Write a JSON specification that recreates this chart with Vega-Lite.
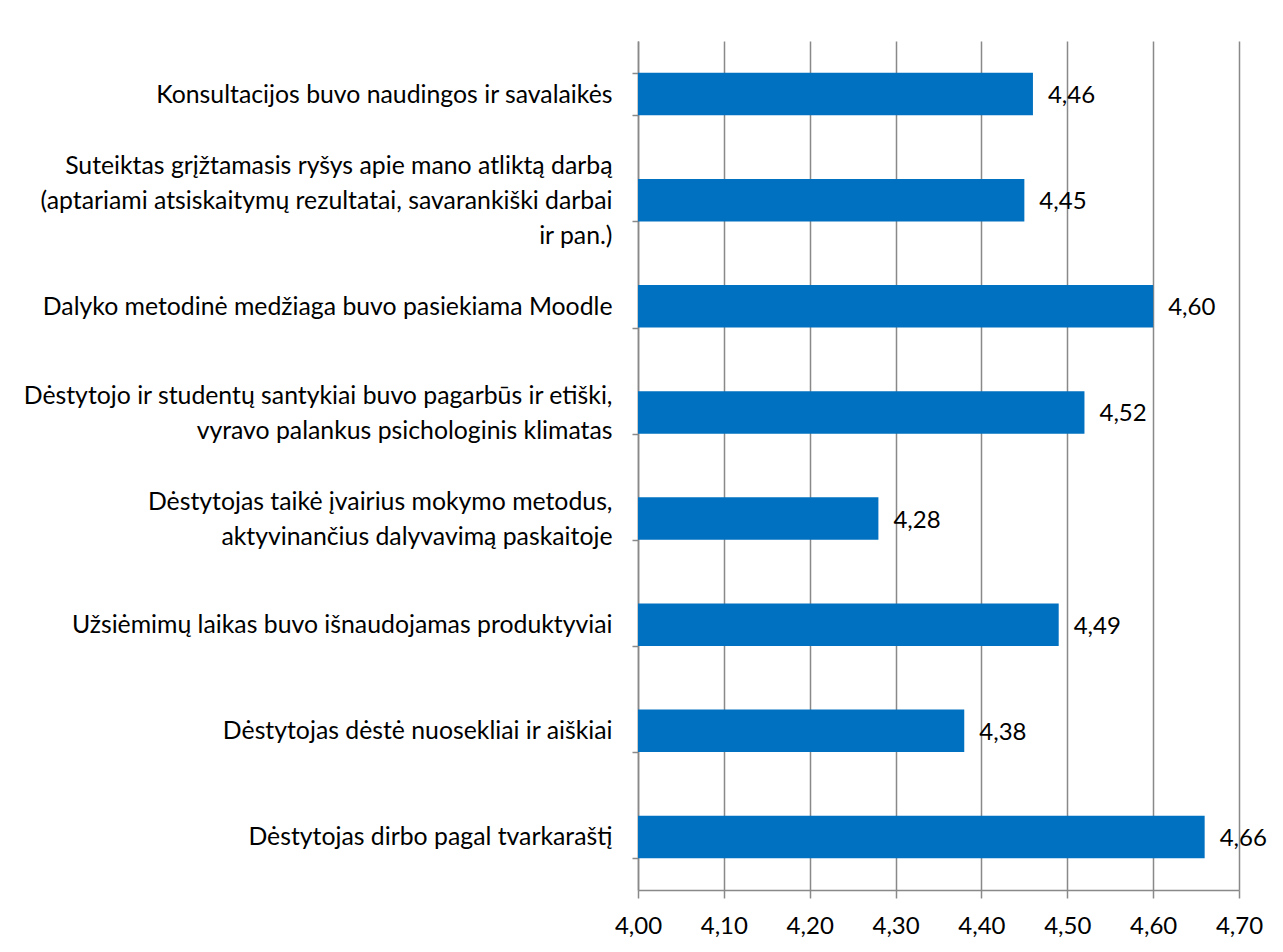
{
  "$schema": "https://vega.github.io/schema/vega-lite/v6.json",
  "width": 601,
  "height": 849,
  "autosize": {"type": "none"},
  "padding": {"left": 638, "top": 41, "right": 44, "bottom": 62},
  "background": "white",
  "config": {
    "font": "Lato",
    "locale": {"number": {"decimal": ",", "thousands": " ", "grouping": [3], "currency": ["", ""]}},
    "view": {"stroke": null}
  },
  "data": {
    "values": [
      {"label": "Konsultacijos buvo naudingos ir savalaikės", "value": 4.46},
      {"label": "Suteiktas grįžtamasis ryšys apie mano atliktą darbą\n(aptariami atsiskaitymų rezultatai, savarankiški darbai\nir pan.)", "value": 4.45},
      {"label": "Dalyko metodinė medžiaga buvo pasiekiama Moodle", "value": 4.60},
      {"label": "Dėstytojo ir studentų santykiai buvo pagarbūs ir etiški,\nvyravo palankus psichologinis klimatas", "value": 4.52},
      {"label": "Dėstytojas taikė įvairius mokymo metodus,\naktyvinančius dalyvavimą paskaitoje", "value": 4.28},
      {"label": "Užsiėmimų laikas buvo išnaudojamas produktyviai", "value": 4.49},
      {"label": "Dėstytojas dėstė nuosekliai ir aiškiai", "value": 4.38},
      {"label": "Dėstytojas dirbo pagal tvarkaraštį", "value": 4.66}
    ]
  },
  "encoding": {
    "y": {
      "field": "label",
      "type": "nominal",
      "sort": null,
      "scale": {"paddingInner": 0.6, "paddingOuter": 0.3},
      "axis": {
        "title": null,
        "tickBand": "extent",
        "tickSize": 6,
        "tickWidth": 1.5,
        "tickColor": "#898989",
        "domainColor": "#898989",
        "domainWidth": 1.5,
        "labelPadding": 20,
        "labelFontSize": 24.8,
        "labelColor": "black",
        "labelAlign": "right",
        "labelBaseline": "middle",
        "labelLineHeight": 35,
        "labelLimit": 0,
        "labelOffset": {
          "condition": [
            {"test": "length(split(datum.value, '\\n')) == 3", "value": -34},
            {"test": "length(split(datum.value, '\\n')) == 2", "value": -16}
          ],
          "value": 1
        },
        "labelExpr": "split(datum.label, '\\n')"
      }
    },
    "x": {
      "field": "value",
      "type": "quantitative",
      "scale": {"domain": [4, 4.7], "nice": false, "zero": false},
      "axis": {
        "title": null,
        "values": [4, 4.1, 4.2, 4.3, 4.4, 4.5, 4.6, 4.7],
        "format": ".2f",
        "grid": true,
        "gridColor": "#898989",
        "gridWidth": 1.5,
        "tickSize": 8,
        "tickWidth": 1.5,
        "tickColor": "#898989",
        "domainColor": "#898989",
        "domainWidth": 1.5,
        "labelPadding": 16,
        "labelFontSize": 24,
        "labelColor": "black",
        "labelFlush": false
      }
    }
  },
  "layer": [
    {
      "mark": {"type": "bar", "color": "#0070C0"},
      "encoding": {"x2": {"datum": 4}}
    },
    {
      "mark": {"type": "text", "align": "left", "baseline": "middle", "dx": 15, "dy": 2, "fontSize": 24, "color": "black"},
      "encoding": {"text": {"field": "value", "type": "quantitative", "format": ".2f"}}
    }
  ]
}
